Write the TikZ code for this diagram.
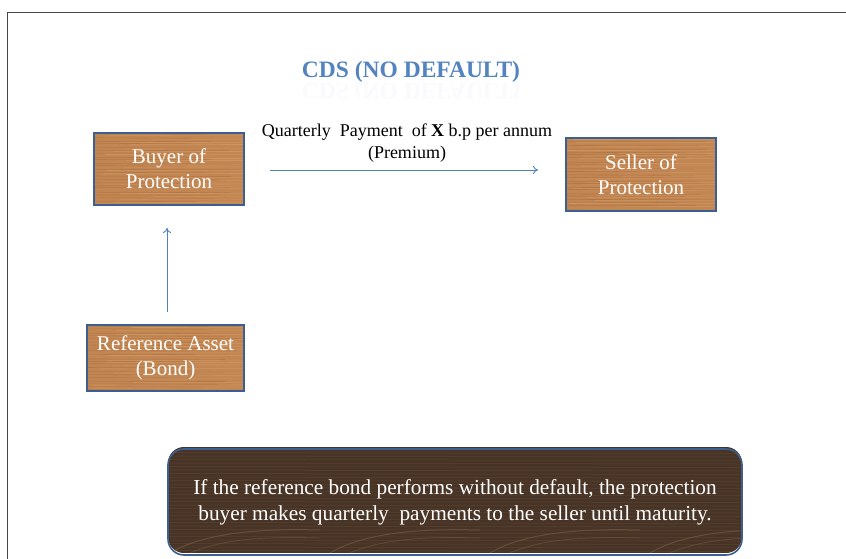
\documentclass[tikz,border=0pt]{standalone}
\usepackage{fontspec}
\setmainfont{Liberation Serif}
\newfontfamily\tms{Liberation Serif}
\usetikzlibrary{arrows.meta}
\definecolor{woodA}{RGB}{194,134,82}
\definecolor{woodB}{RGB}{160,102,58}
\definecolor{woodC}{RGB}{220,168,118}
\definecolor{darkwood}{RGB}{72,52,38}
\definecolor{darkgrain}{RGB}{120,95,70}
\definecolor{edgeblue}{RGB}{60,95,145}
\definecolor{arrowblue}{RGB}{79,129,189}
\definecolor{titleblue}{RGB}{84,132,192}
\definecolor{framegray}{RGB}{70,70,70}
\tikzset{
  woodbox/.style={draw=edgeblue, line width=1.6pt, text=white, align=center,
    font=\tms\fontsize{21}{25}\selectfont, inner sep=0pt},
  flowarrow/.style={draw=arrowblue, line width=0.9pt, -{To[length=5pt,width=8pt]}},
  grain/.style={line width=0.6pt, opacity=0.45},
}
\newcommand{\woodfill}[4]{% x1 y1 x2 y2
  \fill[woodA] (#1,#2) rectangle (#3,#4);
  \begin{scope}
    \clip (#1,#2) rectangle (#3,#4);
    \pgfmathsetseed{#1}
    \foreach \k in {0,...,22}{
      \pgfmathsetmacro{\yy}{#2+\k*3.2+rnd*2}
      \pgfmathsetmacro{\xa}{#1+rnd*60}
      \pgfmathsetmacro{\xb}{#3-rnd*60}
      \draw[grain, woodB] (#1,\yy) -- (\xb,\yy+0.5);
      \draw[grain, woodC] (\xa,\yy+1.4) -- (#3,\yy+1.2);
    }
  \end{scope}
}
\begin{document}
\begin{tikzpicture}[x=1pt,y=-1pt]
\useasboundingbox (0,0) rectangle (846,558);
\fill[white] (0,0) rectangle (846,558);
% frame
\draw[framegray, line width=1.5pt] (7.5,560) -- (7.5,12.5) -- (848,12.5);

% title with faint reflection
\node[font=\tms\fontsize{23.5}{28}\selectfont\bfseries, text=titleblue] (title) at (411,72) {CDS (NO DEFAULT)};
\node[font=\tms\fontsize{23.5}{28}\selectfont\bfseries, text=titleblue, opacity=0.04, yscale=-1] at (411,89) {CDS (NO DEFAULT)};

% wood boxes
\woodfill{94}{133}{244}{205}
\node[woodbox, minimum width=150pt, minimum height=72pt] (buyer) at (169,169) {Buyer of\\Protection};

\woodfill{566}{138}{716}{211}
\node[woodbox, minimum width=150pt, minimum height=73pt] (seller) at (641,174.5) {Seller of\\Protection};

\woodfill{87}{325}{244}{391}
\node[woodbox, minimum width=157pt, minimum height=66pt] (ref) at (165.5,358) {Reference Asset\\(Bond)};

% bottom note box
\begin{scope}
  \clip[rounded corners=16pt] (168,447) rectangle (742,553);
  \fill[darkwood] (168,447) rectangle (742,553);
  \foreach \k in {0,...,30}{
    \pgfmathsetmacro{\yy}{449+\k*3.5}
    \draw[darkgrain, line width=0.5pt, opacity=0.35] (168,\yy) -- (742,\yy+1);
  }
  \foreach \xo in {170,330,490,650}{
    \draw[darkgrain, line width=1pt, opacity=0.6] (\xo,553) .. controls (\xo+30,535) and (\xo+80,528) .. (\xo+150,530);
    \draw[darkgrain, line width=0.8pt, opacity=0.5] (\xo+20,553) .. controls (\xo+50,540) and (\xo+90,536) .. (\xo+150,538);
  }
\end{scope}
\node[draw=edgeblue, line width=1.6pt, rounded corners=16pt, minimum width=574pt, minimum height=106pt,
  text=white, align=center, font=\tms\fontsize{21.3}{26}\selectfont, inner sep=0pt] (note) at (455,502)
  {If the reference bond performs without default, the protection\\buyer makes quarterly\ \ payments to the seller until maturity.};

% arrows
\coordinate (pa) at (270,170);
\coordinate (pb) at (538,170);
\draw[flowarrow] (pa) -- (pb);
\node[align=center, font=\tms\fontsize{18}{22}\selectfont] (lbl) at (407,143)
  {Quarterly\ \ Payment\ \ of \textbf{X} b.p per annum\\(Premium)};
\coordinate (va) at (167,312);
\coordinate (vb) at (167,228);
\draw[flowarrow] (va) -- (vb);
\end{tikzpicture}
\end{document}
